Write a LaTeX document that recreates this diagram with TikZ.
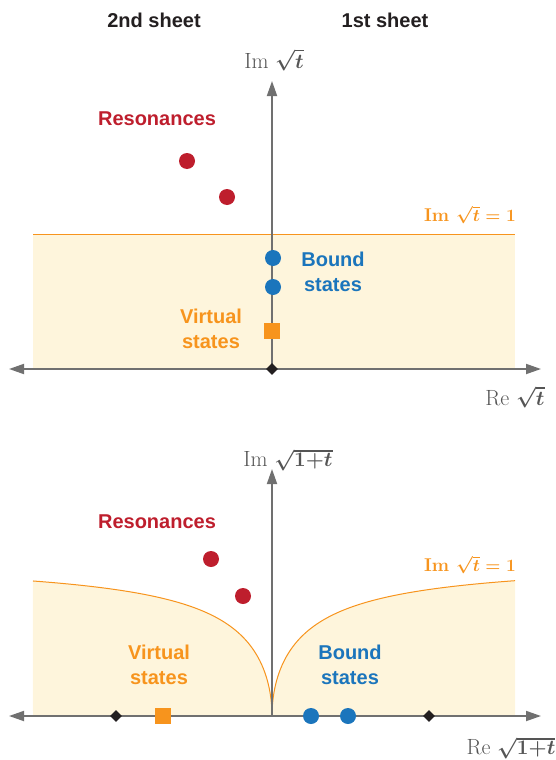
\documentclass[tikz,border=0pt]{standalone}
\usepackage{fontspec}
\newfontfamily\lab{Liberation Sans}
\usetikzlibrary{arrows.meta,shapes.geometric}
\definecolor{cred}{HTML}{BE1E2D}
\definecolor{cblue}{HTML}{1B75BC}
\definecolor{corange}{HTML}{F7941D}
\definecolor{cshade}{HTML}{FEF5DC}
\definecolor{caxis}{HTML}{707070}
\definecolor{clab}{HTML}{555555}
\definecolor{cdark}{HTML}{231F20}
\begin{document}
\begin{tikzpicture}[x=1pt,y=-1pt,
  lbl/.style={font=\lab\bfseries\fontsize{20}{25}\selectfont, align=center, inner sep=0pt},
  axlbl/.style={font=\fontsize{22}{26}\selectfont, text=clab, inner sep=0pt},
  onelbl/.style={font=\bfseries\fontsize{18.5}{22}\selectfont, text=corange, inner sep=0pt},
  axisline/.style={draw=caxis, line width=1.8pt},
  tip/.style={-{Triangle[length=15pt,width=10pt]}},
  bothtips/.style={{Triangle[length=15pt,width=10pt]}-{Triangle[length=15pt,width=10pt]}},
  bndline/.style={draw=corange, line width=1pt},
  res/.style={circle, fill=cred, minimum size=16pt, inner sep=0pt},
  bnd/.style={circle, fill=cblue, minimum size=16pt, inner sep=0pt},
  virt/.style={rectangle, fill=corange, minimum size=16pt, inner sep=0pt},
  dia/.style={diamond, fill=cdark, minimum size=12pt, inner sep=0pt}]
\useasboundingbox (0,0) rectangle (556,760);

% sheet labels
\node[lbl, text=cdark] (s2) at (154,20) {2nd sheet};
\node[lbl, text=cdark] (s1) at (385,20) {1st sheet};

% ===== top diagram =====
\fill[cshade] (33,234) rectangle (515,368);
\coordinate (tlineL) at (33,234);
\coordinate (tlineR) at (515,234);
\draw[bndline] (tlineL) -- (tlineR);

\coordinate (tL) at (9,369);
\coordinate (tR) at (541,369);
\coordinate (tB) at (272,369);
\coordinate (tT) at (272,81);
\draw[axisline, tip] (tB) -- (tT);
\draw[axisline, bothtips] (tL) -- (tR);
\node[dia] (td) at (272,369) {};

\node[axlbl] (tIm) at (274,60) {Im {\boldmath$\sqrt{t}$}};
\node[axlbl] (tRe) at (515,397) {Re {\boldmath$\sqrt{t}$}};
\node[onelbl] (tone) at (470,215) {Im {\boldmath$\sqrt{t}=1$}};

\node[lbl, text=cred] (tres) at (157,119) {Resonances};
\node[res] (tr1) at (187,161) {};
\node[res] (tr2) at (227,197) {};
\node[bnd] (tb1) at (273,258) {};
\node[bnd] (tb2) at (273,287) {};
\node[lbl, text=cblue] (tbl) at (333,272) {Bound\\states};
\node[virt] (tv) at (272,331) {};
\node[lbl, text=corange] (tvl) at (211,329) {Virtual\\states};

% ===== bottom diagram =====
\fill[cshade] (33,716)
  -- plot[domain=15.46:0, samples=80] ({272-\x*\x},{716-157.7*\x/sqrt(\x*\x+87)})
  -- plot[domain=0:15.59, samples=80] ({272+\x*\x},{716-157.7*\x/sqrt(\x*\x+87)})
  -- (515,716) -- cycle;
\draw[bndline] plot[domain=15.46:0, samples=80] ({272-\x*\x},{716-157.7*\x/sqrt(\x*\x+87)});
\draw[bndline] plot[domain=0:15.59, samples=80] ({272+\x*\x},{716-157.7*\x/sqrt(\x*\x+87)});

\coordinate (bL) at (9,716);
\coordinate (bR) at (541,716);
\coordinate (bB) at (272,716);
\coordinate (bT) at (272,469);
\draw[axisline, tip] (bB) -- (bT);
\draw[axisline, bothtips] (bL) -- (bR);

\node[axlbl] (bIm) at (288,460) {Im {\boldmath$\sqrt{1{+}t}$}};
\node[axlbl] (bRe) at (511,748) {Re {\boldmath$\sqrt{1{+}t}$}};
\node[onelbl] (bone) at (470,565) {Im {\boldmath$\sqrt{t}=1$}};

\node[lbl, text=cred] (bres) at (157,522) {Resonances};
\node[res] (br1) at (211,559) {};
\node[res] (br2) at (243,596) {};
\node[lbl, text=corange] (bvl) at (159,665) {Virtual\\states};
\node[lbl, text=cblue] (bbl) at (350,665) {Bound\\states};
\node[dia] (bd1) at (116,716) {};
\node[dia] (bd2) at (429,716) {};
\node[virt] (bv) at (163,716) {};
\node[bnd] (bb1) at (311,716) {};
\node[bnd] (bb2) at (348,716) {};
\end{tikzpicture}
\end{document}
